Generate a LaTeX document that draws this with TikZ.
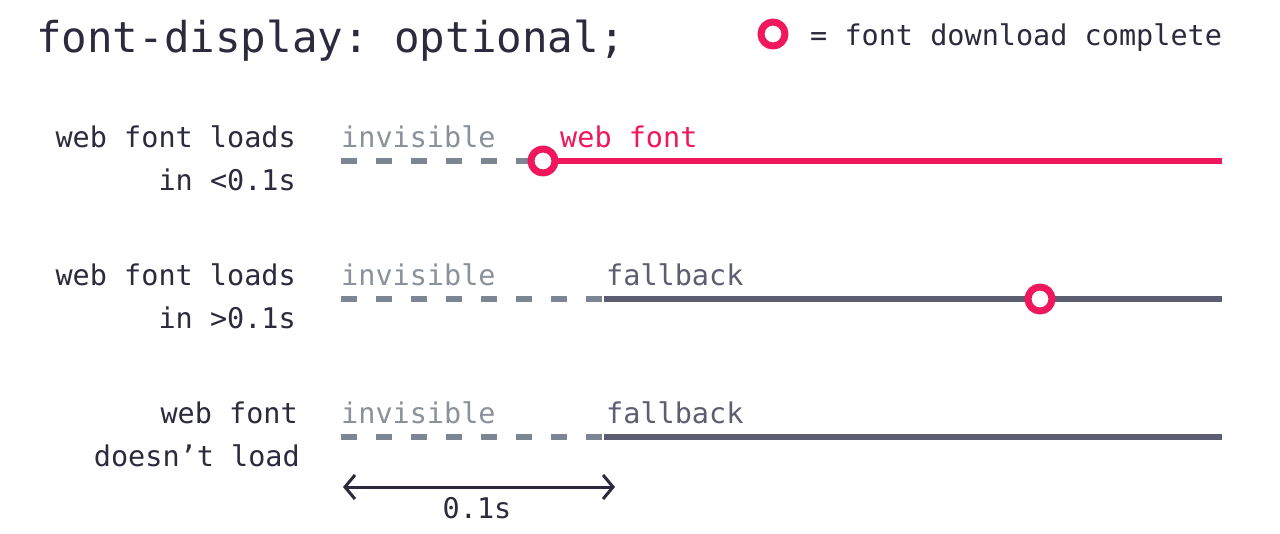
\documentclass[tikz,border=0pt]{standalone}
\usepackage{fontspec}
\setmonofont{DejaVu Sans Mono}
\usetikzlibrary{arrows.meta}
\definecolor{ink}{HTML}{2B2B3D}
\definecolor{pinkc}{HTML}{F0175C}
\definecolor{greyc}{HTML}{8A919B}
\definecolor{dashc}{HTML}{7C8693}
\definecolor{fallc}{HTML}{5D5D72}
\begin{document}
\begin{tikzpicture}[x=1pt,y=-1pt,line join=round,font=\ttfamily\fontsize{28.5}{30}\selectfont,
	lbl/.style={anchor=base east,text=ink,inner sep=0pt},
	state/.style={anchor=base west,inner sep=0pt},
	wait/.style={draw=dashc,line width=6.5pt,dash pattern=on 16pt off 19pt},
	shown/.style={line width=6.5pt},
	done/.style={circle,draw=pinkc,line width=7pt,fill=white,minimum size=24pt,inner sep=0pt},
	barb/.tip={Straight Barb[length=10pt,width=24pt]}]
		\useasboundingbox (0,0) rectangle (1280,533);
		\node[anchor=base west,inner sep=0pt,text=ink,font=\ttfamily\fontsize{42.5}{44}\selectfont] (title) at (36,52) {font-display: optional;};
		\node[done] (key) at (773,34) {};
		\node[state,text=ink] (keytext) at (810,45) {= font download complete};
		% web font loads in <0.1s
		\node[lbl] (l1a) at (296,147) {web font loads};
		\node[lbl] (l1b) at (296,190) {in <0.1s};
		\node[state,text=greyc] (inv1) at (341,147) {invisible};
		\node[state,text=pinkc] (web1) at (560,147) {web font};
		\coordinate (a0) at (341,161);
		\coordinate (a1) at (543,161);
		\coordinate (a2) at (1222,161);
		\draw[wait] (a0)--(a1);
		\draw[shown,pinkc] (a1)--(a2);
		\node[done] (d1) at (a1) {};
		% web font loads in >0.1s
		\node[lbl] (l2a) at (296,285) {web font loads};
		\node[lbl] (l2b) at (296,328) {in >0.1s};
		\node[state,text=greyc] (inv2) at (341,285) {invisible};
		\node[state,text=fallc] (fb2) at (606,285) {fallback};
		\coordinate (b0) at (341,299);
		\coordinate (b1) at (604,299);
		\coordinate (b2) at (1222,299);
		\draw[wait] (b0)--(b1);
		\draw[shown,fallc] (b1)--(b2);
		\node[done] (d2) at (1040,299) {};
		% web font doesn't load
		\node[lbl] (l3a) at (298,423) {web font};
		\node[lbl] (l3b) at (300,466) {doesn’t load};
		\node[state,text=greyc] (inv3) at (341,423) {invisible};
		\node[state,text=fallc] (fb3) at (606,423) {fallback};
		\coordinate (c0) at (341,437);
		\coordinate (c1) at (604,437);
		\coordinate (c2) at (1222,437);
		\draw[wait] (c0)--(c1);
		\draw[shown,fallc] (c1)--(c2);
		% 0.1s span
		\coordinate (t0) at (343,487);
		\coordinate (t1) at (615,487);
		\draw[barb-barb,ink,line width=3pt,line cap=round] (t0)--(t1);
		\node[anchor=base,inner sep=0pt,text=ink] (span) at (477,518) {0.1s};
\end{tikzpicture}
\end{document}
